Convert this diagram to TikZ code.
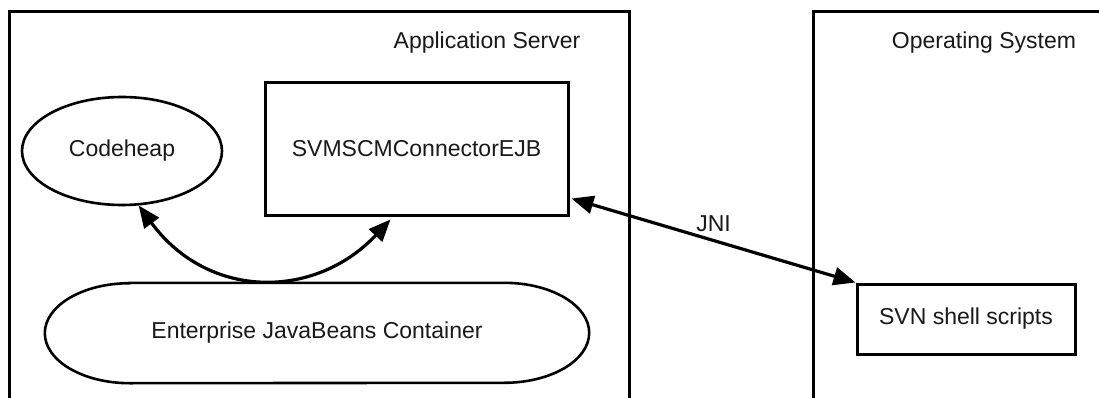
\documentclass[tikz,border=0pt]{standalone}
\usepackage{fontspec}
\setmainfont{Liberation Sans}
\usetikzlibrary{arrows.meta,calc,shapes.geometric}
\begin{document}
\begin{tikzpicture}[x=1pt,y=-1pt,
  every node/.style={font=\fontsize{23}{27}\selectfont, inner sep=0pt, text=black!90},
  frame/.style={draw, line width=3.2pt, anchor=north west},
  blockbox/.style={draw, line width=3pt, rectangle},
  oval/.style={draw, line width=2.6pt, ellipse},
  conn/.style={line width=3.2pt,
    {Triangle[length=22pt,width=18pt]}-{Triangle[length=22pt,width=18pt]}},
]
\useasboundingbox (0,0) rectangle (1099,398);
\clip (0,0) rectangle (1099,398);
\fill[white] (0,0) rectangle (1099,398);

% the two environments, open at the bottom edge
\node[frame, minimum width=620pt, minimum height=430pt] (appsrv) at (8,10) {};
\node[frame, minimum width=320pt, minimum height=430pt] (os) at (812,10) {};
\node (apptitle) at (487,43) {Application Server};
\node (ostitle) at (984,43) {Operating System};

% components
\node[oval, minimum width=200pt, minimum height=108pt] (code) at (122,151) {Codeheap};
\node[blockbox, minimum width=303pt, minimum height=132pt] (svm) at (416.5,149) {SVMSCMConnectorEJB};
\node[blockbox, minimum width=218pt, minimum height=70pt] (svn) at (966,319) {SVN shell scripts};
\node[minimum width=544pt, minimum height=100pt] (ejb) at (317,333) {Enterprise JavaBeans Container};
\draw[line width=2.6pt]
  ([xshift=85pt]ejb.north west) -- ([xshift=-85pt]ejb.north east)
  arc[start angle=90, end angle=-90, x radius=85pt, y radius=50pt]
  -- ([xshift=85pt]ejb.south west)
  arc[start angle=270, end angle=90, x radius=85pt, y radius=50pt] -- cycle;

% connectors
\draw[conn] (code.287) .. controls +(70,95) and +(-75,80) .. ($(svm.south)+(-26,3)$);
\draw[conn] ($(svm.south east)+(2,-18)$) -- (svn.north west)
  node[pos=0.5, yshift=17pt] (jni) {JNI};
\end{tikzpicture}
\end{document}
